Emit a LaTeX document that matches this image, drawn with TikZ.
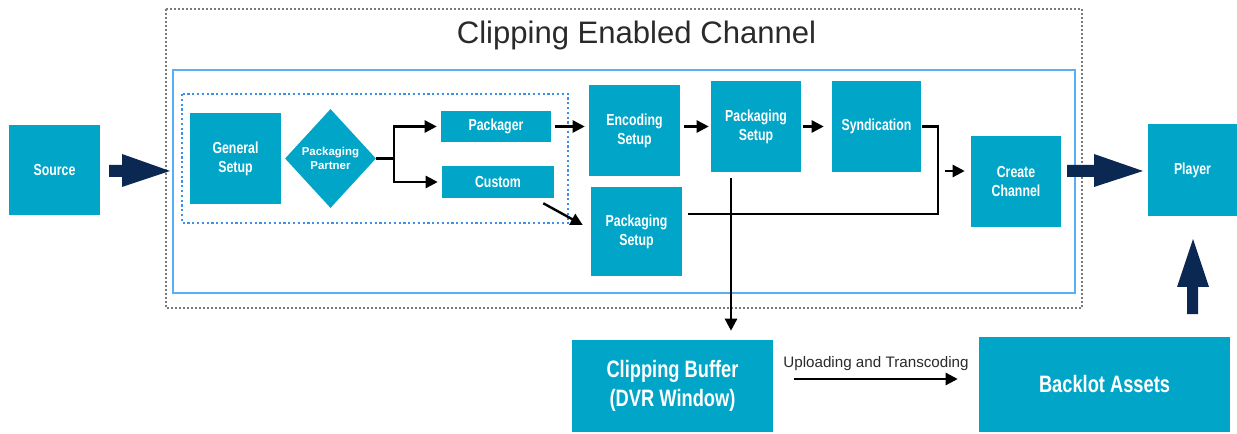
\documentclass[tikz,border=0pt]{standalone}
\usepackage{fontspec}
\setmainfont{Liberation Sans}
\newfontfamily\condf{Liberation Sans}[FakeStretch=0.77]
\usetikzlibrary{shapes.geometric,arrows.meta,calc}
\definecolor{boxc}{HTML}{00A5C8}
\definecolor{navy}{HTML}{0A2852}
\definecolor{frameblue}{HTML}{5AAEF5}
\definecolor{dotblue}{HTML}{3B8FEF}
\definecolor{dotgray}{HTML}{7A7A7A}
\definecolor{txtgray}{HTML}{2A2A2A}
\begin{document}
\begin{tikzpicture}[x=0.75pt,y=-0.75pt,
  box/.style={fill=boxc, text=white, inner sep=0pt, align=center,
    font={\condf\bfseries\fontsize{12}{14.2}\selectfont}},
  bigbox/.style={box, font={\condf\bfseries\fontsize{17.8}{22}\selectfont}},
  decision/.style={diamond, fill=boxc, text=white, inner sep=0pt, align=center,
    font={\bfseries\fontsize{8.6}{10}\selectfont}},
  arr/.style={-{Triangle[length=9pt,width=9pt]}, line width=1.8pt},
  conn/.style={line width=1.8pt},
  bigarrow/.style={fill=navy},
]
\useasboundingbox (0,0) rectangle (1237,434);

% frames
\draw[dotgray, line width=1.4pt, dash pattern=on 1.4pt off 1.6pt] (166,9) rectangle (1082,308);
\node[font=\fontsize{23.3}{26}\selectfont, text=txtgray, anchor=base] (title) at (636.5,44) {Clipping Enabled Channel};
\draw[frameblue, line width=1.9pt] (173,70) rectangle (1075,293);
\draw[dotblue, line width=1.6pt, dash pattern=on 1.6pt off 2pt] (182,94) rectangle (568,223);

% nodes
\node[box, minimum width=68.25pt, minimum height=67.5pt] (src) at (54.5,170) {Source};
\node[box, minimum width=68.25pt, minimum height=68.25pt] (gen) at (235.5,158.5) {General\\Setup};
\node[decision, minimum width=68.25pt, minimum height=74.25pt] (partner) at (330.5,158.5) {Packaging\\Partner};
\node[box, minimum width=82.5pt, minimum height=23.25pt] (pack) at (496,126.5) {Packager};
\node[box, minimum width=84pt, minimum height=24pt] (cust) at (498,182) {Custom};
\node[box, minimum width=68.25pt, minimum height=68.25pt] (enc) at (634.5,130.5) {Encoding\\Setup};
\node[box, minimum width=68.25pt, minimum height=66.75pt] (pklo) at (636.5,231.5) {Packaging\\Setup};
\node[box, minimum width=67.5pt, minimum height=68.25pt] (pkup) at (756,126.5) {Packaging\\Setup};
\node[box, minimum width=66.75pt, minimum height=68.25pt] (synd) at (876.5,126.5) {Syndication};
\node[box, minimum width=67.5pt, minimum height=68.25pt] (create) at (1016,181.5) {Create\\Channel};
\node[box, minimum width=66.75pt, minimum height=69pt] (player) at (1192.5,170) {Player};
\node[bigbox, minimum width=150.75pt, minimum height=69pt] (clip) at (672.5,386) {Clipping Buffer\\(DVR Window)};
\node[bigbox, minimum width=188.25pt, minimum height=71.25pt] (backlot) at (1104.5,384.5) {Backlot Assets};

% big navy arrows
\fill[bigarrow] (109,165) -- (122,165) -- (122,154) -- (170,171) -- (122,187) -- (122,177) -- (109,177) -- cycle;
\fill[bigarrow] (1067,165) -- (1094,165) -- (1094,154) -- (1143,171) -- (1094,187) -- (1094,177) -- (1067,177) -- cycle;
\fill[bigarrow] (1187,314) -- (1187,287) -- (1177,287) -- (1193,239) -- (1209,287) -- (1198,287) -- (1198,314) -- cycle;

% connectors
\coordinate (br) at (394,158.5);
\draw[conn] (partner.east) -- (br);
\draw[arr, shorten >=3pt] (br) |- (pack.west);
\draw[arr, shorten >=3pt] (br) |- (cust.west);
\draw[arr, shorten <=3pt, shorten >=3pt] (pack.east) -- (pack.east -| enc.west);
\draw[arr] ($(cust.south east)+(-11,5)$) -- ($(pklo.west)+(-8,-6.5)$);
\draw[arr, shorten <=3pt, shorten >=1.5pt] (enc.east |- pkup.west) -- (pkup.west);
\draw[arr, shorten <=1.5pt, shorten >=6pt] (pkup.east) -- (synd.west);
\coordinate (j) at (938,214);
\draw[conn, shorten >=4.5pt] ([xshift=0.5pt]synd.east) -| (j) -- (j -| pklo.east);
\coordinate (ci) at (945,171);
\draw[arr, shorten >=4.5pt] (ci) -- (ci -| create.west);
\coordinate (v) at (731,178);
\draw[arr, shorten >=6.75pt] (v) -- (v |- clip.north);
\coordinate (u) at (794,379);
\draw[arr, shorten <=15.75pt, shorten >=15.75pt] (clip.east |- u) -- (backlot.west |- u)
  node[midway, anchor=base, yshift=9pt, font=\fontsize{11.4}{13}\selectfont, text=txtgray] (uplabel) {Uploading and Transcoding};
\end{tikzpicture}
\end{document}
